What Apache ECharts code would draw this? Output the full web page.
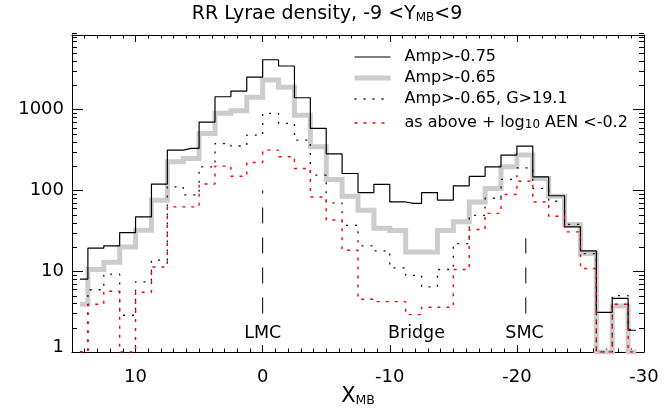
<!DOCTYPE html>
<html><head><meta charset="utf-8">
<script src="https://cdn.jsdelivr.net/npm/echarts@6/dist/echarts.min.js"></script>
<style>html,body{margin:0;padding:0;background:#fff}#c{width:671px;height:408px}</style>
</head><body><div id="c"></div>
<script>
// ---- data (bin centres along X_MB, bin width 1.25) ----
const binCenters = [14.375, 13.125, 11.875, 10.625, 9.375, 8.125, 6.875, 5.625, 4.375, 3.125, 1.875, 0.625,
  -0.625, -1.875, -3.125, -4.375, -5.625, -6.875, -8.125, -9.375, -10.625, -11.875, -13.125, -14.375,
  -15.625, -16.875, -18.125, -19.375, -20.625, -21.875, -23.125, -24.375, -25.625, -26.875, -28.125, -29.375];
// Amp>-0.75
const ampLoose = [8, 19.3, 20.6, 30, 47, 120, 316, 331, 702, 1445, 1700, 2535,
  4150, 3470, 1404, 587, 284, 162, 94, 119, 72, 69, 94, 76,
  114, 149, 196, 274, 354, 147, 86, 35.4, 17.9, 3.1, 4.6, 1.86];
// Amp>-0.65
const ampStrict = [3.9, 10.5, 12.9, 20, 32.2, 75.8, 226, 249, 508, 900, 969, 1420,
  2328, 1890, 850, 347, 137, 85, 57, 34, 32, 17.3, 17.3, 32,
  41, 72, 106, 196, 274, 141, 85, 37.9, 16.6, 1, 3.7, 1];
// Amp>-0.65, G>19.1
const ampFaint = [1, 5.9, 9.2, 2.85, 7.4, 13.7, 111, 88, 196, 380, 355, 484,
  900, 676, 420, 155, 70, 37, 20.6, 17.9, 11, 8.9, 6.4, 10.5,
  22, 49, 80, 137, 190, 106, 73.5, 38, 16.5, 1, 5, 1.9];
// as above + log10 AEN < -0.2
const ampAen = [1, 3.9, 5.65, 1, 5.5, 11.3, 62.6, 62.6, 120, 200, 150, 222,
  316, 261, 187, 83, 43, 18.2, 4.5, 4.2, 4.2, 2.9, 3.58, 3.58,
  10.5, 32.9, 52, 89, 130, 72, 48, 30.7, 10.8, 1, 3.9, 1];
const seriesNames = ['Amp>-0.75', 'Amp>-0.65', 'Amp>-0.65, G>19.1', 'as above + log10 AEN <-0.2'];
// marker lines and region labels
const markerX = [0, -20.7];
const markerLow = [3, 3];
const markerHigh = [100, 25.6];
const regionLabels = ['LMC', 'Bridge', 'SMC'];
const regionLabelX = [0, -12.1, -20.6];
const regionLabelY = [1.68, 1.68, 1.68];
const yMinorTicks = [];
[1, 10, 100, 1000].forEach(d => { for (let k = 2; k <= 9; k++) yMinorTicks.push(d * k); });

const FONT = 'DejaVu Sans';
const NOFILL = 'rgba(0,0,0,0)';
const pair = (xs, ys) => xs.map((x, i) => [x, ys[i]]);
const chart = echarts.init(document.getElementById('c'), null, {renderer: 'canvas'});

const baseX = {type: 'value', inverse: true, min: -30, max: 15, splitLine: {show: false},
  axisLine: {show: true, onZero: false, lineStyle: {color: '#000', width: 1}},
  axisLabel: {show: false}};
const baseY = {type: 'log', logBase: 10, min: 1, max: 8400, splitLine: {show: false},
  axisLine: {show: true, onZero: false, lineStyle: {color: '#000', width: 1}},
  axisTick: {show: true, inside: true, length: 11, lineStyle: {color: '#000'}},
  minorTick: {show: false}};

const subRich = (fs, sfs, pad) => ({
  m: {fontSize: fs, fontFamily: FONT, color: '#000', fontWeight: 'normal', lineHeight: fs, verticalAlign: 'top'},
  s: {fontSize: sfs, fontFamily: FONT, color: '#000', fontWeight: 'normal', lineHeight: sfs, padding: [pad, 0, 0, 0], verticalAlign: 'bottom'}
});

chart.setOption({
  animation: false,
  backgroundColor: '#fff',
  title: {text: '{m|RR Lyrae density, -9 <Y}{s|MB}{m|<9}', left: 327, top: 5, padding: 0, textAlign: 'center',
    textStyle: {fontFamily: FONT, fontSize: 19, fontWeight: 'normal', color: '#000', rich: subRich(19, 12, 15)}},
  grid: {left: 72, right: 27, top: 35, bottom: 56, containLabel: false, outerBoundsMode: 'none'},
  legend: {orient: 'vertical', left: 352, top: 49, padding: 0, itemWidth: 36, itemHeight: 14, itemGap: 5,
    selectedMode: false, data: seriesNames, lineStyle: {width: 'inherit'},
    itemStyle: {color: NOFILL, borderColor: NOFILL, borderWidth: 0, opacity: 0},
    formatter: n => n === seriesNames[3] ? '{m|as above + log}{s|10}{m| AEN <-0.2}' : '{m|' + n + '}',
    textStyle: {fontFamily: FONT, fontSize: 16, color: '#000', padding: [0, 0, 0, 9], rich: subRich(16, 12, 7)}},
  xAxis: [
    Object.assign({}, baseX, {position: 'bottom', interval: 10,
      axisTick: {show: true, inside: true, length: 7, lineStyle: {color: '#000'}},
      axisLabel: {show: true, fontFamily: FONT, fontSize: 18, color: '#000', margin: 16,
        showMaxLabel: false, showMinLabel: true, formatter: v => String(v)},
      name: '{m|X}{s|MB}', nameLocation: 'middle', nameGap: 34, nameMoveOverlap: false,
      nameTextStyle: {fontFamily: FONT, fontSize: 21, color: '#000', rich: subRich(21, 12.5, 11)}}),
    Object.assign({}, baseX, {position: 'bottom', interval: 1,
      axisLine: {show: false, onZero: false}, axisTick: {show: true, inside: true, length: 3.5, lineStyle: {color: '#000'}}}),
    Object.assign({}, baseX, {position: 'top', interval: 10,
      axisTick: {show: true, inside: true, length: 7, lineStyle: {color: '#000'}}}),
    Object.assign({}, baseX, {position: 'top', interval: 1,
      axisLine: {show: false, onZero: false}, axisTick: {show: true, inside: true, length: 3.5, lineStyle: {color: '#000'}}})
  ],
  yAxis: [
    Object.assign({}, baseY, {position: 'left',
      axisLabel: {show: true, fontFamily: FONT, fontSize: 18, color: '#000', margin: 8, showMaxLabel: false,
        formatter: v => Math.round(v) === 1 ? '{one|1}' : String(Math.round(v)),
        rich: {one: {fontFamily: FONT, fontSize: 18, color: '#000', padding: [0, 0, 10, 0]}}}}),
    Object.assign({}, baseY, {position: 'right', axisLabel: {show: false}})
  ],
  series: [
    {name: seriesNames[1], type: 'line', step: 'middle', symbol: 'none', data: pair(binCenters, ampStrict),
      itemStyle: {color: NOFILL}, lineStyle: {color: '#cccccc', width: 5, join: 'miter', cap: 'butt'}},
    {name: seriesNames[0], type: 'line', step: 'middle', symbol: 'none', data: pair(binCenters, ampLoose),
      itemStyle: {color: NOFILL}, lineStyle: {color: '#000', width: 1.2}},
    {name: seriesNames[2], type: 'line', step: 'middle', symbol: 'none', data: pair(binCenters, ampFaint),
      itemStyle: {color: NOFILL}, lineStyle: {color: '#111', width: 1.3, type: [2, 7]}},
    {name: seriesNames[3], type: 'line', step: 'middle', symbol: 'none', data: pair(binCenters, ampAen),
      itemStyle: {color: NOFILL}, lineStyle: {color: '#ff0000', width: 1.4, type: [3, 6]}},
    {name: 'lmc', type: 'line', symbol: 'none', data: [[markerX[0], markerLow[0]], [markerX[0], markerHigh[0]]],
      lineStyle: {color: '#000', width: 1, type: [16, 14]}},
    {name: 'smc', type: 'line', symbol: 'none', data: [[markerX[1], markerLow[1]], [markerX[1], markerHigh[1]]],
      lineStyle: {color: '#000', width: 1, type: [16, 14]}},
    {name: 'regions', type: 'custom', silent: true, clip: false, data: pair(regionLabelX, regionLabelY),
      renderItem: (params, api) => {
        const p = api.coord([api.value(0), api.value(1)]);
        return {type: 'text', x: p[0], y: p[1], style: {text: regionLabels[params.dataIndex],
          font: '17.5px "' + FONT + '"', fill: '#000', align: 'center', verticalAlign: 'middle'}};
      }},
    {name: 'yminor', type: 'custom', silent: true, clip: false, data: yMinorTicks.map(v => [0, v]),
      renderItem: (params, api) => {
        const y = Math.round(api.coord([0, api.value(1)])[1]) + 0.5;
        const cs = params.coordSys;
        return {type: 'group', children: [
          {type: 'line', shape: {x1: cs.x, y1: y, x2: cs.x + 5, y2: y}, style: {stroke: '#000', lineWidth: 1}},
          {type: 'line', shape: {x1: cs.x + cs.width, y1: y, x2: cs.x + cs.width - 5, y2: y}, style: {stroke: '#000', lineWidth: 1}}
        ]};
      }}
  ]
});
</script></body></html>
